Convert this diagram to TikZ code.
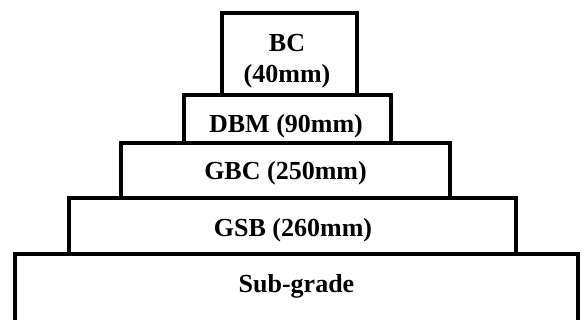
\documentclass[tikz,border=0pt]{standalone}
\usepackage{fontspec}
\setmainfont{Liberation Serif}
\begin{document}
\begin{tikzpicture}[x=1pt,y=-1pt,
  layer/.style={draw=black,line width=4.5pt,line join=miter},
  lbl/.style={font=\fontsize{26}{31}\selectfont\bfseries,inner sep=0pt,align=center}]
\useasboundingbox (0,0) rectangle (584,320);
\clip (0,0) rectangle (584,320);
\fill[white] (0,0) rectangle (584,320);
\draw[layer] (15,254) rectangle (578,335);
\draw[layer] (69,198) rectangle (516,254);
\draw[layer] (121,143) rectangle (450,198);
\draw[layer] (184,95) rectangle (391,143);
\draw[layer] (222,13) rectangle (357,95);
\node[lbl] (bc) at (287,61) {BC\\(40mm)};
\node[lbl,anchor=base] (dbm) at (286,133) {DBM (90mm)};
\node[lbl,anchor=base] (gbc) at (285.5,180) {GBC (250mm)};
\node[lbl,anchor=base] (gsb) at (293,237) {GSB (260mm)};
\node[lbl,anchor=base] (sub) at (296.5,293) {Sub-grade};
\end{tikzpicture}
\end{document}
